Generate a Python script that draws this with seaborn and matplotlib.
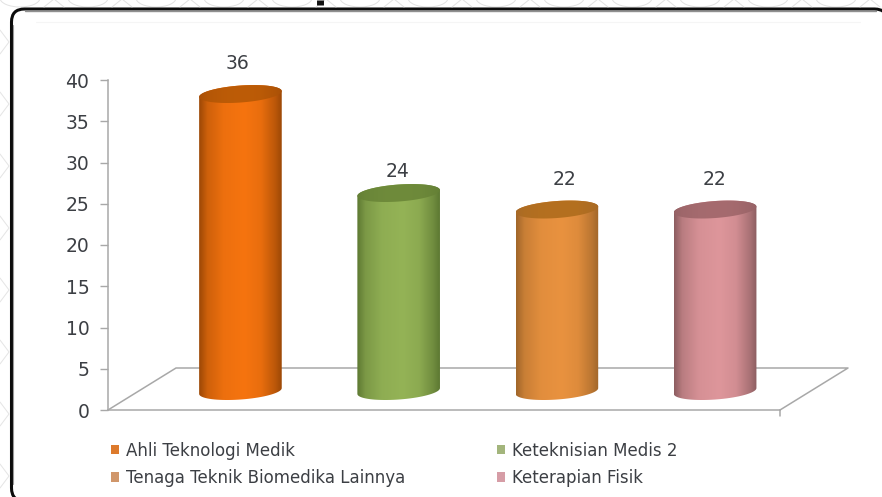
import numpy as np
import pandas as pd
import seaborn as sns
import matplotlib.pyplot as plt
from matplotlib.colors import LinearSegmentedColormap, to_rgb
from matplotlib.patches import FancyBboxPatch, PathPatch
from matplotlib.patches import Arc
from matplotlib.path import Path

# data
categories = ['Ahli Teknologi Medik', 'Keteknisian Medis 2',
              'Tenaga Teknik Biomedika Lainnya', 'Keterapian Fisik']
values = [36, 24, 22, 22]
y_ticks = [0, 5, 10, 15, 20, 25, 30, 35, 40]

# colours per bar: edge, centre, top cap, legend swatch
edge_cols = ['#9c4806', '#5d7832', '#a0662a', '#8c5d60']
mid_cols = ['#f6740f', '#94b356', '#e9923f', '#de969b']
cap_cols = ['#bd5c07', '#6f8b3b', '#b5701f', '#a66b6f']
swatch_cols = ['#dd7a2c', '#a3b57c', '#d0966a', '#d69da6']

# hand nudges of the value labels, in pixels
label_dx = [0, 2, 10, 2]
label_dy = [-1, -10, -2, -2]

W, H = 882, 497
sns.set_theme(style='white')
plt.rcParams['font.family'] = ['DejaVu Sans']
TXT = '#3c3f44'
GREY = '#a8a8a8'


def blend(c1, c2, k):
    return tuple(np.array(to_rgb(c1)) * (1 - k) + np.array(to_rgb(c2)) * k)


def cyl_cmap(edge, mid):
    return LinearSegmentedColormap.from_list(
        'cyl', [(0, edge), (0.1, blend(edge, mid, 0.55)), (0.3, blend(edge, mid, 0.9)),
                (0.55, mid), (0.75, blend(edge, mid, 0.85)), (0.92, blend(edge, mid, 0.35)),
                (1, edge)])


fig = plt.figure(figsize=(W / 100, H / 100), dpi=100)

# background layer in pixel units: lace, frame, chart floor
bg = fig.add_axes([0, 0, 1, 1])
bg.set_xlim(0, W)
bg.set_ylim(H, 0)
bg.axis('off')

for cx in range(20, 880, 68):
    bg.add_patch(Arc((cx, -2), 40, 18, theta1=0, theta2=180, color='#e2e2e2', lw=0.7))
    bg.plot([cx + 24, cx + 34, cx + 44], [7, -1, 7], color='#e2e2e2', lw=0.7)
for cy in range(30, 490, 62):
    bg.plot([0, 9, 0], [cy, cy + 12, cy + 24], color='#e4e4e4', lw=0.7)

bg.add_patch(FancyBboxPatch((11.5, 9), 876, 492, boxstyle='round,pad=0,rounding_size=13',
                            fc='white', ec='#0c0c0c', lw=2.2))
bg.plot([25, 876], [11.2, 11.2], color='#909090', lw=1.0)
bg.plot([13.4, 13.4], [25, 484], color='#9a9a9a', lw=0.8)
bg.plot([36, 860], [21.5, 21.5], color='#f5f5f5', lw=0.8)
bg.plot([320, 320], [0, 5], color='#111111', lw=5, solid_capstyle='butt')

# floor of the 3D box
bg.plot([108, 176, 848, 780], [410, 368, 368, 410], color=GREY, lw=1.1)
bg.plot([780, 780], [410, 416], color=GREY, lw=1.1)

# main axes lined up with the y axis of the picture
ax = fig.add_axes([108 / W, 1 - 410 / H, (780 - 108) / W, (410 - 80) / H])
ax.patch.set_alpha(0)

df = pd.DataFrame({'category': categories, 'value': values})
base = 2.3   # bars stand inside the floor, not on the front edge
sns.barplot(data=df, x='category', y='value', hue='category', palette=mid_cols,
            width=0.522, bottom=base, legend=False, ax=ax, saturation=1)

x_lim = (-0.837, 3.41)
y_lim = (0, 40)
grad = np.linspace(0, 1, 256).reshape(1, -1)

for i, bar in enumerate(ax.patches):
    x0, w = bar.get_x(), bar.get_width()
    y0, h = bar.get_y(), bar.get_height()
    xc = x0 + w / 2
    ry = 1.03
    tilt = 0.35
    t = np.linspace(0, 2 * np.pi, 80)
    ex, ey = np.cos(t), np.sin(t)

    # silhouette: lower half of the foot + upper half of the top
    lo = np.linspace(np.pi, 2 * np.pi, 40)
    up = np.linspace(0, np.pi, 40)
    sx = np.r_[xc + w / 2 * np.cos(lo), xc + w / 2 * np.cos(up)]
    sy = np.r_[y0 + ry * np.sin(lo) + tilt * np.cos(lo),
               y0 + h + ry * np.sin(up) + tilt * np.cos(up)]
    clip = PathPatch(Path(np.c_[sx, sy]), transform=ax.transData, fc='none', ec='none')
    ax.add_patch(clip)
    im = ax.imshow(grad, cmap=cyl_cmap(edge_cols[i], mid_cols[i]), aspect='auto',
                   extent=(x0, x0 + w, y0 - 2, y0 + h + 2), zorder=3)
    im.set_clip_path(clip)
    bar.set_visible(False)

    # top cap
    cap = PathPatch(Path(np.c_[xc + w / 2 * ex, y0 + h + ry * ey + tilt * ex]),
                    transform=ax.transData, fc='none', ec='none')
    ax.add_patch(cap)
    im2 = ax.imshow(grad, cmap=cyl_cmap(blend(edge_cols[i], cap_cols[i], 0.4), cap_cols[i]),
                    aspect='auto', extent=(x0, x0 + w, y0 + h - 2, y0 + h + 2), zorder=4)
    im2.set_clip_path(cap)

    # value label above the cap
    ax.annotate(str(values[i]), (xc, y0 + h + ry), xytext=(label_dx[i] * 0.72 - 2, 10 + label_dy[i] * 0.72),
                textcoords='offset points', ha='center', va='bottom',
                fontsize=13.5, color=TXT, zorder=5)

ax.set_xlim(x_lim)
ax.set_ylim(y_lim)
ax.set_yticks(y_ticks)
ax.set_xticks([])
ax.set_xlabel('')
ax.set_ylabel('')
ax.tick_params(axis='y', left=True, length=5.5, width=1, color=GREY, pad=8,
               labelsize=13.5, labelcolor=TXT)
sns.despine(ax=ax, top=True, right=True)
for side in ['left', 'bottom']:
    ax.spines[side].set_color(GREY)
    ax.spines[side].set_linewidth(1.1)

# legend, two columns filled top to bottom
order = [0, 2, 1, 3]
handles = [plt.Rectangle((0, 0), 1, 1, fc=swatch_cols[j], ec='none') for j in order]
labels = [categories[j] for j in order]
leg = fig.legend(handles, labels, ncol=2, frameon=False, fontsize=12,
                 loc='upper left', bbox_to_anchor=(99 / W, 1 - 430 / H),
                 handlelength=0.48, handleheight=0.48, handletextpad=0.42,
                 labelspacing=0.55, columnspacing=5.5, borderpad=0.2)
for t in leg.get_texts():
    t.set_color(TXT)

fig.savefig('out.png', dpi=100)
